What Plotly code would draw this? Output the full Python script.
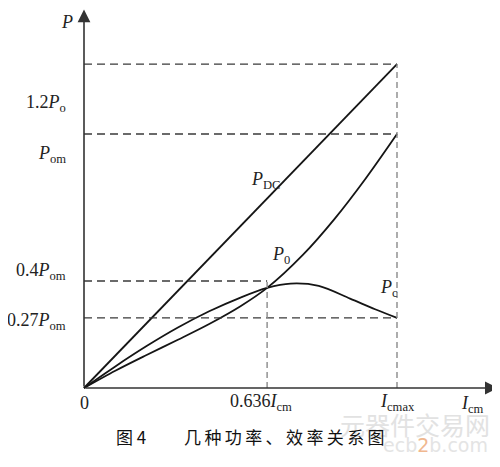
import plotly.graph_objects as go

# collector current, in units of Icmax
pdc_i = [0, 1.0]
pdc_vals = [0, 1.275]

po_i = [0, 0.1, 0.2, 0.3, 0.4, 0.5, 0.585, 0.7, 0.8, 0.9, 1.0]
po_vals = [0, 0.068, 0.13, 0.19, 0.252, 0.322, 0.394, 0.525, 0.665, 0.825, 1.0]

pc_i = [0, 0.1, 0.2, 0.3, 0.4, 0.5, 0.585, 0.66, 0.75, 0.85, 0.93, 1.0]
pc_vals = [0, 0.085, 0.165, 0.238, 0.302, 0.356, 0.394, 0.411, 0.402, 0.352, 0.31, 0.276]

# guide levels (in units of Pom) and currents
y_levels = [1.275, 1.0, 0.421, 0.276]
y_labels = ["1.2<i>P</i><sub>o</sub>", "<i>P</i><sub>om</sub>",
            "0.4<i>P</i><sub>om</sub>", "0.27<i>P</i><sub>om</sub>"]
y_label_pos = [1.122, 0.921, 0.457, 0.26]
y_level_end = [1.0, 1.0, 0.585, 1.0]

x_marks = [0.585, 1.0]
x_mark_top = [0.421, 1.275]
x_labels = ["0", "0.636<i>I</i><sub>cm</sub>", "<i>I</i><sub>cmax</sub>"]
x_label_pos = [0.003, 0.565, 1.003]

SERIF = "Liberation Serif"
CJK = "Noto Sans CJK SC"
INK = "#151515"

fig = go.Figure()
for xs, ys, shape in [(pdc_i, pdc_vals, "linear"), (po_i, po_vals, "spline"), (pc_i, pc_vals, "spline")]:
    fig.add_trace(go.Scatter(x=xs, y=ys, mode="lines", line=dict(color=INK, width=1.8, shape=shape, smoothing=0.9),
                             showlegend=False, hoverinfo="skip"))

# horizontal guides
for lvl, end in zip(y_levels, y_level_end):
    fig.add_shape(type="line", x0=0, x1=end, y0=lvl, y1=lvl, line=dict(color="#3a3a3a", width=1.4, dash="8px,5px"))
# vertical guides
for xm, top in zip(x_marks, x_mark_top):
    fig.add_shape(type="line", x0=xm, x1=xm, y0=0, y1=top, line=dict(color="#8a8a8a", width=1.4, dash="6px,4px"))

# axes with arrows
fig.add_annotation(x=0, y=1.49, ax=0, ay=0, axref="x", ayref="y", xref="x", yref="y", text="",
                   showarrow=True, arrowhead=2, arrowsize=1.6, arrowwidth=1.6, arrowcolor="#333")
fig.add_annotation(x=1.322, y=0, ax=0, ay=0, axref="x", ayref="y", xref="x", yref="y", text="",
                   showarrow=True, arrowhead=2, arrowsize=1.6, arrowwidth=1.6, arrowcolor="#333")

font = dict(family=SERIF, size=18, color="#222")
for txt, yp in zip(y_labels, y_label_pos):
    fig.add_annotation(x=-0.052, y=yp, text=txt, showarrow=False, xanchor="right", font=font)
for txt, xp in zip(x_labels, x_label_pos):
    fig.add_annotation(x=xp, y=-0.058, text=txt, showarrow=False, font=font)

fig.add_annotation(x=-0.054, y=1.441, text="<i>P</i>", showarrow=False, font=font)
fig.add_annotation(x=1.24, y=-0.063, text="<i>I</i><sub>cm</sub>", showarrow=False, font=font)
fig.add_annotation(x=0.581, y=0.815, text="<i>P</i><sub>DC</sub>", showarrow=False, font=font)
fig.add_annotation(x=0.629, y=0.52, text="<i>P</i><sub>0</sub>", showarrow=False, font=font)
fig.add_annotation(x=0.974, y=0.39, text="<i>P</i><sub>c</sub>", showarrow=False, font=font)

# watermark
fig.add_annotation(x=0.982, y=-0.043, xref="paper", yref="paper", text="元器件交易网", showarrow=False,
                   xanchor="right", yanchor="middle", font=dict(family=CJK, size=25, color="#e2e2e2"))
fig.add_annotation(x=0.977, y=-0.095, xref="paper", yref="paper",
                   text="ecb<span style='color:#f0b890'>2</span>b.com", showarrow=False,
                   xanchor="right", yanchor="middle", font=dict(family="DejaVu Sans", size=19, color="#e4e4e4"))

# caption
cap = "\u2009".join("几种功率、效率关系图")
fig.add_annotation(x=0.2, y=-0.073, xref="paper", yref="paper", text="图 4", showarrow=False,
                   xanchor="right", yanchor="middle", font=dict(family=CJK, size=17, color="#111"))
fig.add_annotation(x=0.277, y=-0.073, xref="paper", yref="paper", text=cap, showarrow=False,
                   xanchor="left", yanchor="middle", font=dict(family=CJK, size=17, color="#111"))

fig.update_xaxes(range=[-24 / 313, 416 / 313], visible=False)
fig.update_yaxes(range=[-19 / 254, 380 / 254], visible=False)
# page body adds an 8px offset, so the figure is 8px smaller than the window
fig.update_layout(width=492, height=459, margin=dict(l=52, r=0, t=0, b=60),
                  plot_bgcolor="white", paper_bgcolor="white")
fig.write_html("out.html")
